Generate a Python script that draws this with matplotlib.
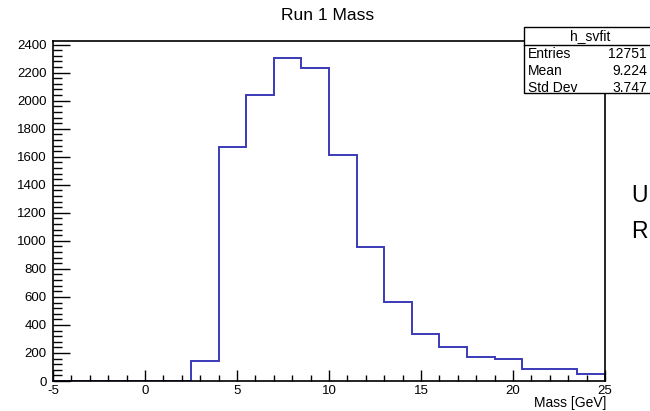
import matplotlib
matplotlib.use("Agg")
import matplotlib.pyplot as plt
from matplotlib.patches import Rectangle
from matplotlib.lines import Line2D
from matplotlib.ticker import MultipleLocator

plt.rcParams['font.family'] = ['Liberation Sans', 'DejaVu Sans']
plt.rcParams['axes.unicode_minus'] = False

# histogram h_svfit, 20 bins of 1.5 GeV from -5 to 25
bin_edges = [-5, -3.5, -2, -0.5, 1, 2.5, 4, 5.5, 7, 8.5, 10,
             11.5, 13, 14.5, 16, 17.5, 19, 20.5, 22, 23.5, 25]
counts = [0, 0, 0, 0, 0, 140, 1668, 2041, 2308, 2232,
          1611, 959, 566, 338, 243, 169, 157, 83, 83, 50]

stat_names = ['Entries', 'Mean', 'Std Dev']
stat_values = ['12751', '9.224', '3.747']

W, H = 650, 411
fig = plt.figure(figsize=(6.5, 4.11), dpi=100)
ax = fig.add_axes([53/W, 1-381/H, 552/W, 340/H])

ax.stairs(counts, bin_edges, color='#3a3ab8', lw=1.4, zorder=1)

ax.set_xlim(-5, 25)
ax.set_ylim(0, 2426)
ax.xaxis.set_major_locator(MultipleLocator(5))
ax.xaxis.set_minor_locator(MultipleLocator(1))
ax.yaxis.set_major_locator(MultipleLocator(200))
ax.yaxis.set_minor_locator(MultipleLocator(40))
ax.tick_params(axis='x', which='major', direction='in', length=8, width=1, pad=3, labelsize=9.5)
ax.tick_params(axis='x', which='minor', direction='in', length=4.3, width=1)
ax.tick_params(axis='y', which='major', direction='in', length=12, width=1, pad=4.5, labelsize=9.5)
ax.tick_params(axis='y', which='minor', direction='in', length=6.5, width=1)
for sp in ax.spines.values():
    sp.set_linewidth(1.2)
    sp.set_zorder(3)

fig.text(606/W, 1/H, 'Mass [GeV]', ha='right', va='bottom', fontsize=10)

fig.text(327.5/W, 1-15/H, 'Run 1 Mass', ha='center', va='center', fontsize=12.5)

# stats box
box_l, box_t, box_b, sep = 524, 27, 93, 45
fig.patches.append(Rectangle((box_l/W, 1-box_b/H), (W+10-box_l)/W, (box_b-box_t)/H,
                             transform=fig.transFigure, facecolor='white',
                             edgecolor='black', lw=1, zorder=5))
fig.lines.append(Line2D([box_l/W, 1.02], [1-sep/H, 1-sep/H], transform=fig.transFigure,
                        color='black', lw=1, zorder=6))
fig.text(590/W, 1-36/H, 'h_svfit', ha='center', va='center', fontsize=10, zorder=7)
for i, (name, val) in enumerate(zip(stat_names, stat_values)):
    y = 1-(53.5+17*i)/H
    fig.text(528/W, y, name, ha='left', va='center', fontsize=10, zorder=7)
    fig.text(647/W, y, val, ha='right', va='center', fontsize=10, zorder=7)

# text cut off at the right edge of the slide
fig.text(631/W, 1-195/H, 'U', ha='left', va='center', fontsize=16.5)
fig.text(631/W, 1-231/H, 'R', ha='left', va='center', fontsize=16.5)

fig.savefig('out.png', dpi=100)
